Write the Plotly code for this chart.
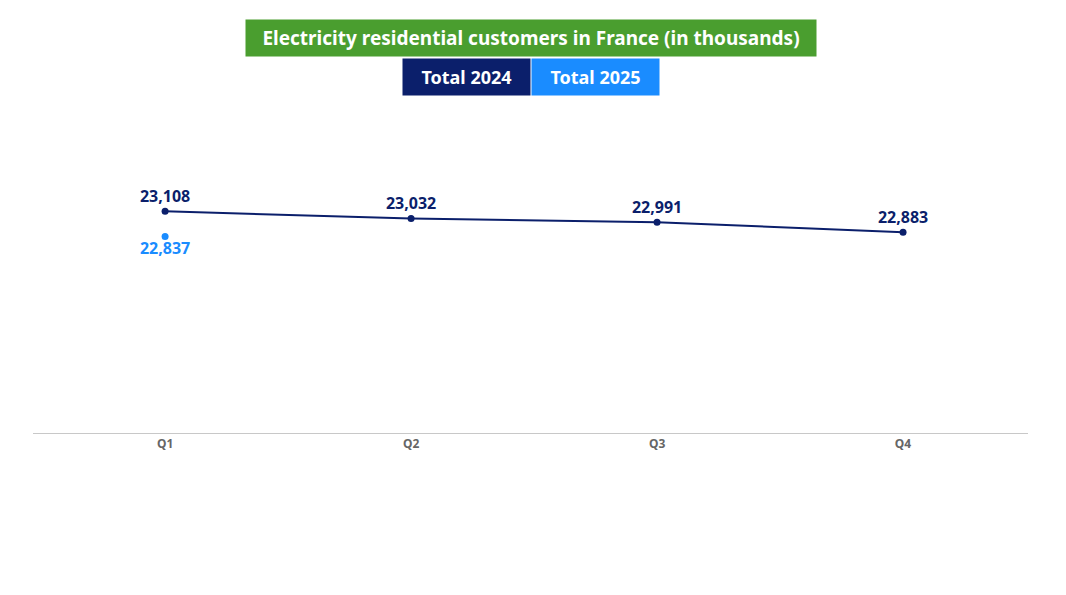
import plotly.graph_objects as go

quarters = ["Q1", "Q2", "Q3", "Q4"]
total_2024 = [23108, 23032, 22991, 22883]
quarters_2025 = ["Q1"]
total_2025 = [22837]

NAVY = "#0b1f6b"
BLUE = "#1a8cff"
GREEN = "#4a9e2f"
FONT = "Noto Sans"

fig = go.Figure()

fig.add_trace(go.Scatter(
    x=quarters, y=total_2024, mode="lines+markers+text",
    line=dict(color=NAVY, width=2), marker=dict(color=NAVY, size=7),
    text=[f"{v:,}" for v in total_2024], textposition="top center",
    textfont=dict(family=FONT, size=16, color=NAVY, weight="bold"),
    name="Total 2024", showlegend=False,
))
fig.add_trace(go.Scatter(
    x=quarters_2025, y=total_2025, mode="markers+text",
    marker=dict(color=BLUE, size=7),
    text=[f"{v:,}" for v in total_2025], textposition="bottom center",
    textfont=dict(family=FONT, size=16, color=BLUE, weight="bold"),
    name="Total 2025", showlegend=False,
))

fig.add_annotation(
    text="<b>Electricity residential customers in France (in thousands)</b>",
    xref="paper", yref="paper", x=0.5, y=1.0, yanchor="bottom", yshift=53,
    showarrow=False, bgcolor=GREEN, borderpad=5, width=560,
    font=dict(family=FONT, size=19, color="white"),
)
fig.add_annotation(
    text="<b>Total 2024</b>", xref="paper", yref="paper", x=0.5, y=1.0,
    xanchor="right", yanchor="bottom", yshift=14, showarrow=False, width=115,
    bgcolor=NAVY, borderpad=6, font=dict(family=FONT, size=18, color="white"),
)
fig.add_annotation(
    text="<b>Total 2025</b>", xref="paper", yref="paper", x=0.5, y=1.0,
    xanchor="left", yanchor="bottom", yshift=14, showarrow=False, width=115,
    bgcolor=BLUE, borderpad=6, font=dict(family=FONT, size=18, color="white"),
)

fig.update_layout(
    width=1066, height=595,
    margin=dict(l=25, r=46, t=102, b=170),
    plot_bgcolor="white", paper_bgcolor="white",
    xaxis=dict(showgrid=False, showline=True, linecolor="#c8c8c8", linewidth=1,
               ticks="", range=[-0.537, 3.508],
               tickfont=dict(family=FONT, size=12, color="#666666", weight="bold")),
    yaxis=dict(visible=False, range=[20720, 24200]),
)

fig.write_html("out.html")
